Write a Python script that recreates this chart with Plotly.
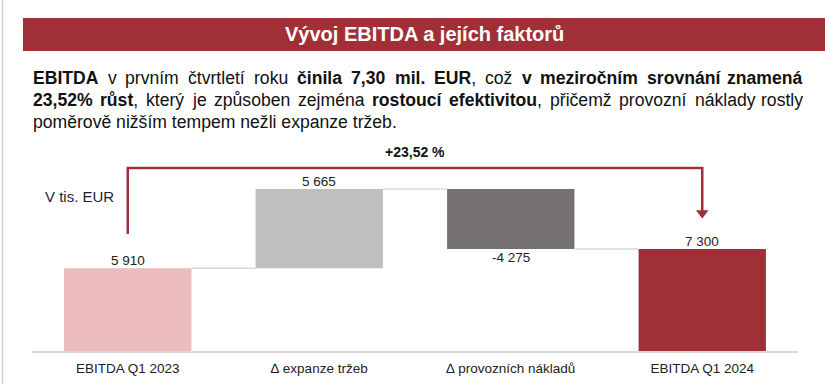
import plotly.graph_objects as go

# ---------------- data ----------------
categories = ["EBITDA Q1 2023", "\u2206 expanze tržeb", "\u2206 provozních nákladů", "EBITDA Q1 2024"]
start_value = 5910
deltas = [5665, -4275]
end_value = 7300
bar_colors = ["#EBBBBD", "#BFBFBF", "#767171", "#A12F37"]

title_text = "Vývoj EBITDA a jejích faktorů"
unit_text = "V tis. EUR"

# paragraph: each word is a list of (text, bold) pieces
line1_words = [[("EBITDA", 1)], [("v", 0)], [("prvním", 0)], [("čtvrtletí", 0)], [("roku", 0)],
               [("činila", 1)], [("7,30", 1)], [("mil.", 1)], [("EUR", 1), (",", 0)], [("což", 0)],
               [("v", 1)], [("meziročním", 1)], [("srovnání", 1)], [("znamená", 1)]]
line2_words = [[("23,52%", 1)], [("růst", 1), (",", 0)], [("který", 0)], [("je", 0)], [("způsoben", 0)],
               [("zejména", 0)], [("rostoucí", 1)], [("efektivitou", 1), (",", 0)], [("přičemž", 0)],
               [("provozní", 0)], [("náklady", 0)], [("rostly", 0)]]
line3_text = "poměrově nižším tempem nežli expanze tržeb."

# ---------------- geometry helpers ----------------
W, H = 825, 384
ML, MR, MT, MB = 32, 27, 130, 33
PW, PH = W - ML - MR, H - MT - MB
YMAX = 15800
FONT = "Arial, Liberation Sans, sans-serif"
RED = "#A12F37"

# Arial / Liberation Sans advance widths (per 1000 em) for layout of justified text
REG = dict(zip("abcdefghijklmnopqrstuvwxyz", [556, 556, 500, 556, 556, 278, 556, 556, 222, 222, 500, 222, 833,
                                               556, 556, 556, 556, 333, 500, 278, 556, 500, 722, 500, 500, 500]))
REG.update({"á": 556, "é": 556, "í": 278, "ý": 500, "č": 500, "ě": 556, "ř": 333, "š": 500, "ž": 500, "ů": 556,
            ",": 278, ".": 278, "%": 889, " ": 278, "E": 667, "U": 722, "R": 722, "V": 667})
BOLD = dict(zip("abcdefghijklmnopqrstuvwxyz", [556, 611, 556, 611, 556, 333, 611, 611, 278, 278, 556, 278, 889,
                                                611, 611, 611, 611, 389, 556, 333, 611, 556, 778, 556, 556, 500]))
BOLD.update({"á": 556, "é": 556, "í": 278, "ý": 556, "č": 556, "ě": 556, "ř": 389, "š": 556, "ž": 500, "ů": 611,
             ",": 278, ".": 278, "%": 889, " ": 278, "E": 667, "U": 722, "R": 722, "A": 722, "B": 722,
             "D": 722, "I": 278, "T": 611})
for d in "0123456789":
    REG[d] = 556
    BOLD[d] = 556


def px(x):
    return (x - ML) / PW


def py(y):
    return (H - MB - y) / PH


def fmt(v):
    return f"{v:,}".replace(",", " ")


def word_width(pieces, size):
    total = 0
    for t, b in pieces:
        tab = BOLD if b else REG
        total += sum(tab.get(c, 556) for c in t)
    return total * size / 1000


def word_html(pieces):
    return "".join(f"<b>{t}</b>" if b else t for t, b in pieces)


# waterfall levels
cum1 = start_value + deltas[0]
cum2 = cum1 + deltas[1]
bases = [0, start_value, cum1, 0]
heights = [start_value, deltas[0], deltas[1], end_value]
values = [start_value] + deltas + [end_value]
ends = [b + h for b, h in zip(bases, heights)]
xs = list(range(len(categories)))
BW = 0.665

fig = go.Figure()

fig.add_trace(go.Bar(
    x=xs, y=heights, base=bases, width=BW,
    marker=dict(color=bar_colors, line=dict(width=0)),
    cliponaxis=False, hoverinfo="skip",
))

# connectors
levels = [start_value, cum1, cum2]
cx, cy = [], []
for i, lv in enumerate(levels):
    cx += [i + BW / 2, i + 1 - BW / 2, None]
    cy += [lv, lv, None]
fig.add_trace(go.Scatter(x=cx, y=cy, mode="lines", line=dict(color="#D9D9D9", width=1.5),
                         hoverinfo="skip", cliponaxis=False))

# bracket with arrow
top_level = max(levels) + 1510
fig.add_trace(go.Scatter(
    x=[0, 0, 3, 3], y=[start_value + 2455, top_level, top_level, end_value + 2700],
    mode="lines", line=dict(color=RED, width=2.5), hoverinfo="skip", cliponaxis=False))
fig.add_trace(go.Scatter(
    x=[3], y=[end_value + 2566], mode="markers",
    marker=dict(symbol="triangle-down", size=11, color=RED, line=dict(width=0)),
    hoverinfo="skip", cliponaxis=False))

growth = (end_value / start_value - 1) * 100
growth_text = "+" + f"{growth:.2f}".replace(".", ",") + " %"

annotations = [
    dict(x=1.5, y=top_level, xref="x", yref="y", text=f"<b>{growth_text}</b>", showarrow=False,
         yshift=16, font=dict(family=FONT, size=14, color="#111111")),
    dict(x=px(43), y=py(196), xref="paper", yref="paper", text=unit_text, showarrow=False,
         xanchor="left", yanchor="middle", font=dict(family=FONT, size=15, color="#1F1F2E")),
    dict(x=px(424), y=py(34), xref="paper", yref="paper", text=f"<b>{title_text}</b>", showarrow=False,
         xanchor="center", yanchor="middle", font=dict(family=FONT, size=20, color="white")),
]

# value labels
for i, (v, e) in enumerate(zip(values, ends)):
    annotations.append(dict(x=i, y=e, xref="x", yref="y", text=fmt(v), showarrow=False,
                            yanchor="middle", yshift=(7.5 if v > 0 else -9),
                            font=dict(family=FONT, size=13.5, color="#222222")))

PSIZE = 17.6
PFONT = dict(family=FONT, size=PSIZE, color="#111111")
TX0, TX1 = 32, 804
for words, yl in [(line1_words, 78), (line2_words, 100)]:
    widths = [word_width(w, PSIZE) for w in words]
    gap = (TX1 - TX0 - sum(widths)) / (len(words) - 1)
    xcur = TX0
    for k, w in enumerate(words):
        if k == len(words) - 1:
            annotations.append(dict(x=px(TX1), y=py(yl), xref="paper", yref="paper", text=word_html(w),
                                    showarrow=False, xanchor="right", yanchor="middle", font=PFONT,
                                    borderpad=0))
        else:
            annotations.append(dict(x=px(xcur), y=py(yl), xref="paper", yref="paper", text=word_html(w),
                                    showarrow=False, xanchor="left", yanchor="middle", font=PFONT,
                                    borderpad=0))
        xcur += widths[k] + gap
annotations.append(dict(x=px(TX0), y=py(122), xref="paper", yref="paper", text=line3_text, showarrow=False,
                        xanchor="left", yanchor="middle", font=PFONT, borderpad=0))

shapes = [
    dict(type="rect", xref="paper", yref="paper", x0=px(23), x1=px(826), y0=py(51), y1=py(18),
         fillcolor=RED, line=dict(width=0), layer="below"),
    dict(type="line", xref="paper", yref="paper", x0=px(2.5), x1=px(2.5), y0=py(0), y1=py(384),
         line=dict(color="#CFCFCF", width=1.5)),
]

fig.update_layout(
    width=W, height=H, margin=dict(l=ML, r=MR, t=MT, b=MB, autoexpand=False),
    paper_bgcolor="white", plot_bgcolor="white", showlegend=False,
    annotations=annotations, shapes=shapes, hovermode=False,
    xaxis=dict(range=[-0.5, 3.5], tickvals=xs, ticktext=categories, showgrid=False, zeroline=False,
               showline=True, linecolor="#D9D9D9", linewidth=1.5, ticks="", ticklabelstandoff=4,
               automargin=False,
               tickfont=dict(family=FONT, size=13.5, color="#222222"), fixedrange=True),
    yaxis=dict(range=[0, YMAX], visible=False, fixedrange=True, automargin=False),
)

fig.write_html("out.html", config={"displayModeBar": False},
               post_script="document.body.style.margin='0';document.body.style.overflow='hidden';")
